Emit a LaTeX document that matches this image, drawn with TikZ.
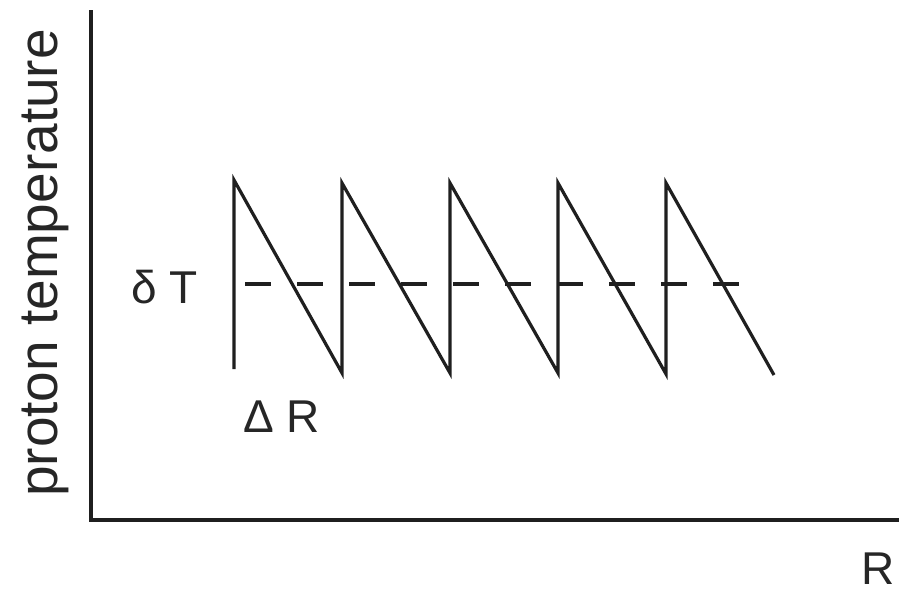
\documentclass[tikz,border=0pt]{standalone}
\usepackage{fontspec}
\setmainfont{Liberation Sans}
\begin{document}
\begin{tikzpicture}[x=1pt,y=-1pt,
  ln/.style={line width=3.2pt, draw=black!88, line join=miter},
  lbl/.style={inner sep=0pt, text=black!85, font=\fontsize{46}{50}\selectfont},
  ylbl/.style={inner sep=0pt, text=black!85, font=\fontsize{55}{58}\selectfont}]
\useasboundingbox[fill=white] (0,0) rectangle (899,592);
% axes
\coordinate (ytop) at (91,10);
\coordinate (orig) at (91,520);
\coordinate (xend) at (899,520);
\draw[ln] (ytop) -- (orig) -- (xend);
% sawtooth
\coordinate (s0) at (234,369);
\coordinate (t1) at (234,180);
\coordinate (b1) at (342,373);
\coordinate (t2) at (342,183);
\coordinate (b2) at (450,373);
\coordinate (t3) at (450,183);
\coordinate (b3) at (558,373);
\coordinate (t4) at (558,183);
\coordinate (b4) at (666,374);
\coordinate (t5) at (666,183);
\coordinate (b5) at (774,375);
\draw[ln, line join=miter, miter limit=20] (s0) -- (t1) -- (b1) -- (t2) -- (b2) -- (t3) -- (b3) -- (t4) -- (b4) -- (t5) -- (b5);
% dashed mean line
\coordinate (d0) at (245,284);
\coordinate (d1) at (739,284);
\draw[ln, dash pattern=on 26pt off 26pt] (d0) -- (d1);
% labels
\node[ylbl, rotate=90] (yl) at (45,263) {proton temperature};
\node[lbl, anchor=base west] (dT) at (131,303) {δ T};
\node[lbl, anchor=base west] (dR) at (243,432) {Δ R};
\node[lbl, anchor=base west] (R) at (861,584) {R};
\end{tikzpicture}
\end{document}
